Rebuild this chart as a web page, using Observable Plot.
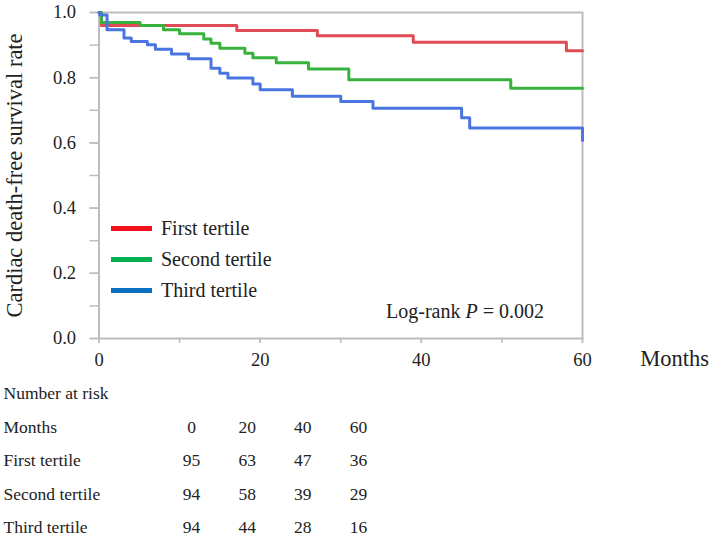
<!DOCTYPE html>
<html>
<head>
<meta charset="utf-8">
<script src="https://cdn.jsdelivr.net/npm/d3@7"></script>
<script src="https://cdn.jsdelivr.net/npm/@observablehq/plot@0.6"></script>
<style>
  html, body { margin: 0; padding: 0; background: #fff; }
  #wrap { position: relative; width: 709px; height: 538px; font-family: "Liberation Serif", "Times New Roman", serif; color: #222; }
  .leg { position: absolute; left: 111px; width: 41px; height: 5px; }
  .legt { position: absolute; left: 161px; font-size: 20px; line-height: 20px; white-space: nowrap; }
</style>
</head>
<body>
<div id="wrap"></div>
<script>
// ---- Data ----
const groups = ["First tertile", "Second tertile", "Third tertile"];
const curveColors = ["#e04b55", "#36b23d", "#4a74e0"];
const legendColors = ["#f0101c", "#00b050", "#0a6fc0"];

const firstMonths  = [0, 0.3, 17.1, 27.1, 39.0, 58.0, 60];
const firstSurv    = [1.0, 0.960, 0.945, 0.929, 0.909, 0.883, 0.883];

const secondMonths = [0, 0.3, 5.1, 8.0, 10.0, 13.0, 13.9, 15.0, 18.1, 19.1, 22.0, 26.0, 31.0, 51.1, 60];
const secondSurv   = [1.0, 0.969, 0.960, 0.947, 0.935, 0.919, 0.906, 0.890, 0.875, 0.861, 0.846, 0.827, 0.794, 0.768, 0.768];

const thirdMonths  = [0, 0.1, 1.0, 3.1, 4.0, 6.0, 7.0, 9.0, 11.1, 13.9, 15.0, 16.0, 19.1, 20.0, 24.0, 30.0, 34.0, 45.0, 46.0, 60, 60];
const thirdSurv    = [1.0, 0.992, 0.947, 0.922, 0.911, 0.901, 0.887, 0.873, 0.858, 0.829, 0.814, 0.799, 0.781, 0.763, 0.743, 0.727, 0.706, 0.677, 0.646, 0.646, 0.607];

const xTicks = [0, 20, 40, 60];
const yTicks = [0, 0.2, 0.4, 0.6, 0.8, 1.0];
const pValueText = "0.002";

const riskMonths = [0, 20, 40, 60];
const riskFirst  = [95, 63, 47, 36];
const riskSecond = [94, 58, 39, 29];
const riskThird  = [94, 44, 28, 16];

// ---- Build tables ----
const monthsArr = [firstMonths, secondMonths, thirdMonths];
const survArr = [firstSurv, secondSurv, thirdSurv];
const curves = groups.flatMap((g, i) => monthsArr[i].map((m, j) => ({group: g, month: m, surv: survArr[i][j]})));

const serif = "'Liberation Serif', 'Times New Roman', serif";
const gray = "#bdbdbd";

const chart = Plot.plot({
  width: 709,
  height: 375,
  marginLeft: 98.5,
  marginRight: 127,
  marginTop: 12,
  marginBottom: 37,
  style: {fontFamily: serif, background: "#fff", overflow: "visible"},
  x: {domain: [0, 60]},
  y: {domain: [0, 1]},
  color: {domain: groups, range: curveColors},
  marks: [
    Plot.frame({stroke: gray, strokeWidth: 2}),
    Plot.axisY({ticks: d3.range(0, 1.0001, 0.1), tickSize: 9, stroke: gray, strokeWidth: 1.5, tickFormat: () => "", label: null}),
    Plot.axisY({ticks: yTicks, tickSize: 9, tickPadding: 14, stroke: gray, strokeWidth: 1.5,
      tickFormat: d => d.toFixed(1), fontSize: 18.5, fill: "#222", label: null}),
    Plot.axisX({ticks: d3.range(0, 60.001, 10), tickSize: 5, stroke: gray, strokeWidth: 1.5, tickFormat: () => "", label: null}),
    Plot.axisX({ticks: xTicks, tickSize: 5, tickPadding: 9, stroke: gray, strokeWidth: 1.5,
      fontSize: 18.5, fill: "#222", label: null}),
    Plot.line(curves, {x: "month", y: "surv", z: "group", stroke: "group", strokeWidth: 3, curve: "step-after"}),
    Plot.text(["Months"], {x: 60, y: 0, dx: 92, dy: 20, text: d => d, fontSize: 22.5, fill: "#222", textAnchor: "middle"}),
    Plot.text(["Cardiac death-free survival rate"], {frameAnchor: "left", y: 0.5, dx: -84, text: d => d, rotate: -90, fontSize: 22.5, fill: "#222", textAnchor: "middle"})
  ]
});
chart.style.display = "block";

const wrap = document.getElementById("wrap");
wrap.appendChild(chart);

const lr = document.createElement("div");
lr.style.cssText = "position:absolute;left:386px;top:299px;font-size:20px;line-height:24px;white-space:nowrap;";
lr.innerHTML = 'Log-rank <i>P</i> = ' + pValueText;
wrap.appendChild(lr);

const legTops = [226, 257, 288];
groups.forEach((g, i) => {
  const l = document.createElement("div");
  l.className = "leg";
  l.style.top = legTops[i] + "px";
  l.style.background = legendColors[i];
  wrap.appendChild(l);
  const t = document.createElement("div");
  t.className = "legt";
  t.style.top = (legTops[i] - 8) + "px";
  t.textContent = g;
  wrap.appendChild(t);
});

const rowLabels = ["Months", ...groups];
const rowValues = [riskMonths, riskFirst, riskSecond, riskThird];
const cells = rowValues.flatMap((vals, r) => vals.map((v, c) => ({row: r, col: c, v})));
const labels = rowLabels.map((l, r) => ({row: r, l}));

const table = Plot.plot({
  width: 709,
  height: 163,
  margin: 0,
  style: {fontFamily: serif, background: "#fff"},
  x: {type: "linear", domain: [0, 3], range: [191, 358], axis: null},
  y: {type: "linear", domain: [-1, 3], range: [18, 152], axis: null},
  marks: [
    Plot.text(["Number at risk"], {x: 0, y: -1, dx: -188, text: d => d, textAnchor: "start", fontSize: 17.5, fill: "#222"}),
    Plot.text(labels, {x: 0, y: "row", dx: -188, text: "l", textAnchor: "start", fontSize: 17.5, fill: "#222"}),
    Plot.text(cells, {x: "col", y: "row", text: "v", textAnchor: "middle", fontSize: 17.5, fill: "#222"})
  ]
});
table.style.display = "block";
wrap.appendChild(table);
</script>
</body>
</html>
